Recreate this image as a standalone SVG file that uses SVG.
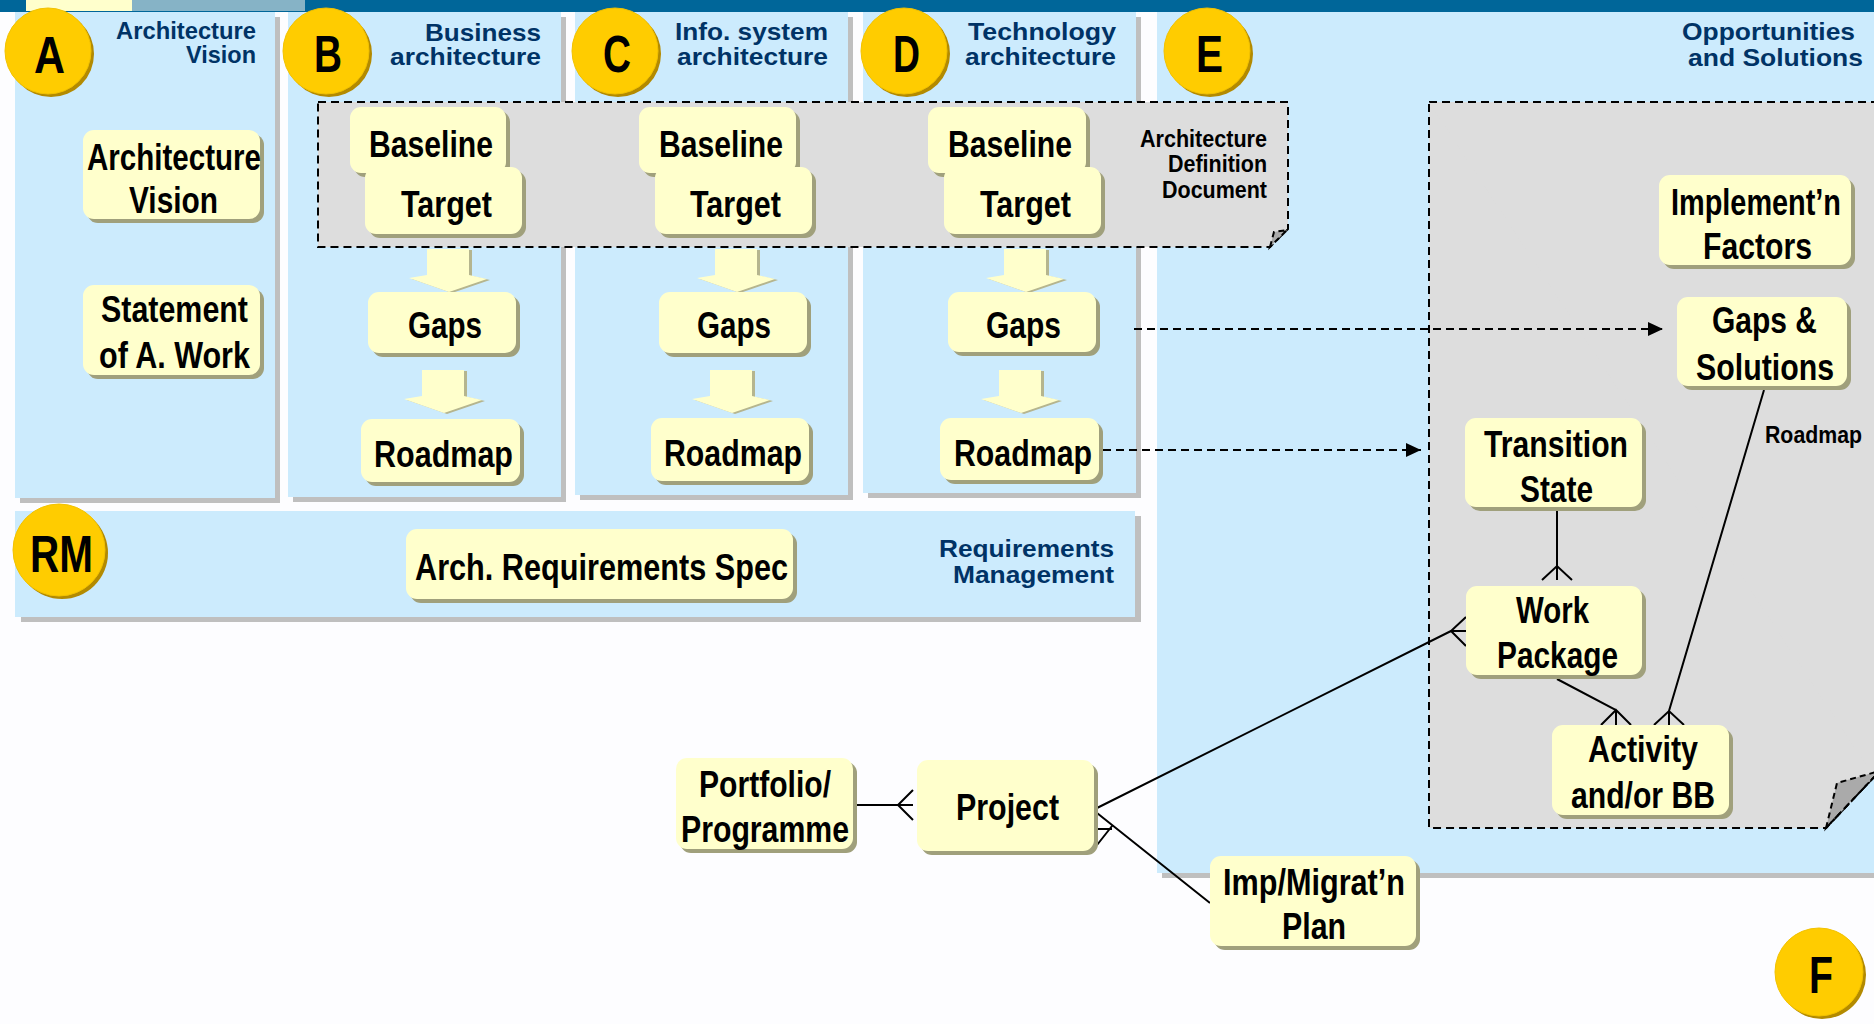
<svg xmlns="http://www.w3.org/2000/svg" xmlns:xlink="http://www.w3.org/1999/xlink" width="1874" height="1024" viewBox="0 0 1874 1024">
<style>
.panel{fill:#CCEBFD}
.psh{fill:#BFBFBF}
.box{fill:#FFFFCC}
.bsh{fill:#A0A07C}
.lbl{font-family:'Liberation Sans Narrow','Liberation Sans',Arial,sans-serif;font-weight:bold;font-size:37px;fill:#000;text-anchor:middle}
.ttl{font-family:'Liberation Sans',Arial,sans-serif;font-weight:bold;font-size:24px;fill:#003366;text-anchor:end}
.add{font-family:'Liberation Sans Narrow','Liberation Sans',Arial,sans-serif;font-weight:bold;font-size:23px;fill:#000;text-anchor:end}
.small{font-family:'Liberation Sans Narrow','Liberation Sans',Arial,sans-serif;font-weight:bold;font-size:24px;fill:#000}
.circ{fill:#FFCC00;stroke:#F2C200;stroke-width:1}
.csh{fill:#B38A00}
.ltr{font-family:'Liberation Sans Narrow','Liberation Sans',Arial,sans-serif;font-weight:bold;font-size:51px;fill:#000;text-anchor:middle}
.grp{fill:#DDDDDD;stroke:#000;stroke-width:2;stroke-dasharray:8 5}
.fold{fill:#AAAAAA;stroke:#000;stroke-width:2;stroke-dasharray:6 4}
.conn{fill:none;stroke:#000;stroke-width:2}
.dash{stroke-dasharray:8 5}
.ba{fill:#FFFFCC}
.bash{fill:#B5B58E}
</style>
<defs>
<path id="barrow" d="M-21,0 H21 V26 L39,30 L1,43 L-39,29 L-21,26 Z"/>
<marker id="ah" markerUnits="userSpaceOnUse" markerWidth="16" markerHeight="16" refX="15" refY="7" orient="auto">
<path d="M0,0 L15,7 L0,14 Z" fill="#000"/>
</marker>
</defs>
<rect x="0" y="0" width="1874" height="1024" fill="#FDFDFF"/>
<g id="topbar">
<rect x="0" y="0" width="1874" height="12" fill="#006699"/>
<rect x="26" y="0" width="106" height="11" fill="#FFFFCC"/>
<rect x="132" y="0" width="173" height="11" fill="#86B3C6"/>
</g>
<g id="panel-A">
<rect class="psh" x="20" y="17" width="260" height="486"/>
<rect class="panel" x="15" y="12" width="260" height="486"/>
<text class="ttl" x="256" y="39" textLength="140" lengthAdjust="spacingAndGlyphs">Architecture</text>
<text class="ttl" x="256" y="63" textLength="70" lengthAdjust="spacingAndGlyphs">Vision</text>
</g>
<g id="panel-B">
<rect class="psh" x="293" y="17" width="273" height="485"/>
<rect class="panel" x="288" y="12" width="273" height="485"/>
<text class="ttl" x="541" y="41" textLength="116" lengthAdjust="spacingAndGlyphs">Business</text>
<text class="ttl" x="541" y="65" textLength="151" lengthAdjust="spacingAndGlyphs">architecture</text>
</g>
<g id="panel-C">
<rect class="psh" x="580" y="17" width="273" height="483"/>
<rect class="panel" x="575" y="12" width="273" height="483"/>
<text class="ttl" x="828" y="40" textLength="153" lengthAdjust="spacingAndGlyphs">Info. system</text>
<text class="ttl" x="828" y="65" textLength="151" lengthAdjust="spacingAndGlyphs">architecture</text>
</g>
<g id="panel-D">
<rect class="psh" x="868" y="17" width="273" height="481"/>
<rect class="panel" x="863" y="12" width="273" height="481"/>
<text class="ttl" x="1116" y="40" textLength="148" lengthAdjust="spacingAndGlyphs">Technology</text>
<text class="ttl" x="1116" y="65" textLength="151" lengthAdjust="spacingAndGlyphs">architecture</text>
</g>
<g id="panel-E">
<rect class="psh" x="1162" y="17" width="720" height="861"/>
<rect class="panel" x="1157" y="12" width="720" height="861"/>
<text class="ttl" x="1855" y="40" textLength="173" lengthAdjust="spacingAndGlyphs">Opportunities</text>
<text class="ttl" x="1863" y="66" textLength="175" lengthAdjust="spacingAndGlyphs">and Solutions</text>
</g>
<g id="panel-RM">
<rect class="psh" x="21" y="516" width="1120" height="106"/>
<rect class="panel" x="15" y="511" width="1120" height="106"/>
<text class="ttl" x="1114" y="557" textLength="175" lengthAdjust="spacingAndGlyphs">Requirements</text>
<text class="ttl" x="1114" y="583" textLength="161" lengthAdjust="spacingAndGlyphs">Management</text>
</g>
<g id="add-document">
<path class="grp" d="M318,102 H1288 V229 L1270,247 H318 Z"/>
<path class="fold" d="M1270,247 L1274,232 L1287,230 Z"/>
<text class="add" x="1267" y="147" textLength="127" lengthAdjust="spacingAndGlyphs">Architecture</text>
<text class="add" x="1267" y="172" textLength="99" lengthAdjust="spacingAndGlyphs">Definition</text>
<text class="add" x="1267" y="198" textLength="105" lengthAdjust="spacingAndGlyphs">Document</text>
</g>
<g id="os-area">
<path d="M1429,102 H1874 V777 L1826,828 H1429 Z" fill="#DDDDDD"/>
<path class="grp" d="M1429,102 H1880" fill="none"/>
<path class="grp" d="M1874,777 L1826,828 H1429 V102" fill="none"/>
<path class="fold" d="M1826,828 L1837,783 L1876,772 L1876,775 Z"/>
<path class="conn dash" d="M1826,828 L1876,775"/>
</g>
<g id="circles">
<g id="circle-A"><circle class="csh" cx="51" cy="54" r="43"/><circle class="circ" cx="48" cy="51" r="43"/><text class="ltr" x="49.5" y="73" textLength="31" lengthAdjust="spacingAndGlyphs">A</text></g>
<g id="circle-B"><circle class="csh" cx="329" cy="54" r="43"/><circle class="circ" cx="326" cy="51" r="43"/><text class="ltr" x="328" y="72" textLength="28" lengthAdjust="spacingAndGlyphs">B</text></g>
<g id="circle-C"><circle class="csh" cx="618" cy="54" r="43"/><circle class="circ" cx="615" cy="51" r="43"/><text class="ltr" x="617" y="72" textLength="28" lengthAdjust="spacingAndGlyphs">C</text></g>
<g id="circle-D"><circle class="csh" cx="907" cy="54" r="43"/><circle class="circ" cx="904" cy="51" r="43"/><text class="ltr" x="906.5" y="72" textLength="27" lengthAdjust="spacingAndGlyphs">D</text></g>
<g id="circle-E"><circle class="csh" cx="1210" cy="54" r="43"/><circle class="circ" cx="1207" cy="51" r="43"/><text class="ltr" x="1209.5" y="72" textLength="27" lengthAdjust="spacingAndGlyphs">E</text></g>
<g id="circle-RM"><circle class="csh" cx="62" cy="553" r="46"/><circle class="circ" cx="59" cy="550" r="46"/><text class="ltr" x="61.5" y="572" textLength="63" lengthAdjust="spacingAndGlyphs">RM</text></g>
<g id="circle-F"><circle class="csh" cx="1822" cy="975" r="44"/><circle class="circ" cx="1819" cy="972" r="44"/><text class="ltr" x="1821" y="993" textLength="24" lengthAdjust="spacingAndGlyphs">F</text></g>
</g>
<g id="block-arrows">
<use href="#barrow" class="bash" x="451" y="250"/><use href="#barrow" class="ba" x="448" y="249"/>
<use href="#barrow" class="bash" x="739" y="250"/><use href="#barrow" class="ba" x="736" y="249"/>
<use href="#barrow" class="bash" x="1028" y="250"/><use href="#barrow" class="ba" x="1025" y="249"/>
<use href="#barrow" class="bash" x="446" y="371"/><use href="#barrow" class="ba" x="443" y="370"/>
<use href="#barrow" class="bash" x="734" y="371"/><use href="#barrow" class="ba" x="731" y="370"/>
<use href="#barrow" class="bash" x="1023" y="371"/><use href="#barrow" class="ba" x="1020" y="370"/>
</g>
<g id="connectors">
<path class="conn dash" d="M1134,329 H1663" marker-end="url(#ah)"/>
<path class="conn dash" d="M1103,450 H1421" marker-end="url(#ah)"/>
<path class="conn" d="M1557,511 V580 M1542,580 L1557,566 L1572,580"/>
<path class="conn" d="M1097,808 L1451,631 M1466,617 L1451,631 L1466,646 M1451,631 H1466"/>
<path class="conn" d="M1557,679 L1616,710 V725 M1601,725 L1616,710 L1631,725"/>
<path class="conn" d="M1764,390 L1669,711 V725 M1654,725 L1669,711 L1684,725"/>
<path class="conn" d="M857,805 H913 M913,790 L898,805 L913,820"/>
<path class="conn" d="M1097,813 L1210,903 M1097,829 H1112 M1097,845 L1112,826"/>
<text class="small" x="1765" y="443" textLength="97" lengthAdjust="spacingAndGlyphs">Roadmap</text>
</g>
<g id="node-arch-vision"><rect class="bsh" x="87" y="134" width="177" height="89" rx="11"/><rect class="box" x="83" y="130" width="177" height="89" rx="11"/>
<text class="lbl" x="174" y="170" textLength="174" lengthAdjust="spacingAndGlyphs">Architecture</text>
<text class="lbl" x="173.5" y="213" textLength="89" lengthAdjust="spacingAndGlyphs">Vision</text></g>
<g id="node-statement"><rect class="bsh" x="87" y="289" width="177" height="90" rx="11"/><rect class="box" x="83" y="285" width="177" height="90" rx="11"/>
<text class="lbl" x="174.5" y="322" textLength="147" lengthAdjust="spacingAndGlyphs">Statement</text>
<text class="lbl" x="174.5" y="368" textLength="151" lengthAdjust="spacingAndGlyphs">of A. Work</text></g>
<g id="node-baseline-B"><rect class="bsh" x="354" y="111" width="156" height="66" rx="11"/><rect class="box" x="350" y="107" width="156" height="66" rx="11"/>
<text class="lbl" x="431" y="157" textLength="124" lengthAdjust="spacingAndGlyphs">Baseline</text></g>
<g id="node-target-B"><rect class="bsh" x="369" y="171" width="157" height="67" rx="11"/><rect class="box" x="365" y="167" width="157" height="67" rx="11"/>
<text class="lbl" x="446.5" y="217" textLength="91" lengthAdjust="spacingAndGlyphs">Target</text></g>
<g id="node-gaps-B"><rect class="bsh" x="372" y="296" width="148" height="61" rx="11"/><rect class="box" x="368" y="292" width="148" height="61" rx="11"/>
<text class="lbl" x="445" y="338" textLength="74" lengthAdjust="spacingAndGlyphs">Gaps</text></g>
<g id="node-roadmap-B"><rect class="bsh" x="365" y="423" width="159" height="63" rx="11"/><rect class="box" x="361" y="419" width="159" height="63" rx="11"/>
<text class="lbl" x="443.5" y="467" textLength="139" lengthAdjust="spacingAndGlyphs">Roadmap</text></g>
<g id="node-baseline-C"><rect class="bsh" x="643" y="111" width="157" height="66" rx="11"/><rect class="box" x="639" y="107" width="157" height="66" rx="11"/>
<text class="lbl" x="721" y="157" textLength="124" lengthAdjust="spacingAndGlyphs">Baseline</text></g>
<g id="node-target-C"><rect class="bsh" x="659" y="171" width="157" height="67" rx="11"/><rect class="box" x="655" y="167" width="157" height="67" rx="11"/>
<text class="lbl" x="735.5" y="217" textLength="91" lengthAdjust="spacingAndGlyphs">Target</text></g>
<g id="node-gaps-C"><rect class="bsh" x="663" y="296" width="148" height="61" rx="11"/><rect class="box" x="659" y="292" width="148" height="61" rx="11"/>
<text class="lbl" x="734" y="338" textLength="74" lengthAdjust="spacingAndGlyphs">Gaps</text></g>
<g id="node-roadmap-C"><rect class="bsh" x="655" y="422" width="158" height="63" rx="11"/><rect class="box" x="651" y="418" width="158" height="63" rx="11"/>
<text class="lbl" x="733" y="466" textLength="138" lengthAdjust="spacingAndGlyphs">Roadmap</text></g>
<g id="node-baseline-D"><rect class="bsh" x="932" y="111" width="158" height="66" rx="11"/><rect class="box" x="928" y="107" width="158" height="66" rx="11"/>
<text class="lbl" x="1010" y="157" textLength="124" lengthAdjust="spacingAndGlyphs">Baseline</text></g>
<g id="node-target-D"><rect class="bsh" x="948" y="171" width="157" height="67" rx="11"/><rect class="box" x="944" y="167" width="157" height="67" rx="11"/>
<text class="lbl" x="1025.5" y="217" textLength="91" lengthAdjust="spacingAndGlyphs">Target</text></g>
<g id="node-gaps-D"><rect class="bsh" x="952" y="296" width="148" height="60" rx="11"/><rect class="box" x="948" y="292" width="148" height="60" rx="11"/>
<text class="lbl" x="1023.5" y="338" textLength="75" lengthAdjust="spacingAndGlyphs">Gaps</text></g>
<g id="node-roadmap-D"><rect class="bsh" x="944" y="422" width="159" height="62" rx="11"/><rect class="box" x="940" y="418" width="159" height="62" rx="11"/>
<text class="lbl" x="1023" y="466" textLength="138" lengthAdjust="spacingAndGlyphs">Roadmap</text></g>
<g id="node-ars"><rect class="bsh" x="410" y="533" width="387" height="70" rx="11"/><rect class="box" x="406" y="529" width="387" height="70" rx="11"/>
<text class="lbl" x="601.5" y="580" textLength="373" lengthAdjust="spacingAndGlyphs">Arch. Requirements Spec</text></g>
<g id="node-impl-factors"><rect class="bsh" x="1663" y="179" width="192" height="90" rx="11"/><rect class="box" x="1659" y="175" width="192" height="90" rx="11"/>
<text class="lbl" x="1756" y="215" textLength="170" lengthAdjust="spacingAndGlyphs">Implement’n</text>
<text class="lbl" x="1757.5" y="259" textLength="109" lengthAdjust="spacingAndGlyphs">Factors</text></g>
<g id="node-gaps-solutions"><rect class="bsh" x="1681" y="301" width="170" height="89" rx="11"/><rect class="box" x="1677" y="297" width="170" height="89" rx="11"/>
<text class="lbl" x="1764.5" y="333" textLength="105" lengthAdjust="spacingAndGlyphs">Gaps &amp;</text>
<text class="lbl" x="1765" y="380" textLength="138" lengthAdjust="spacingAndGlyphs">Solutions</text></g>
<g id="node-transition"><rect class="bsh" x="1469" y="422" width="177" height="89" rx="11"/><rect class="box" x="1465" y="418" width="177" height="89" rx="11"/>
<text class="lbl" x="1556" y="457" textLength="144" lengthAdjust="spacingAndGlyphs">Transition</text>
<text class="lbl" x="1556.5" y="502" textLength="73" lengthAdjust="spacingAndGlyphs">State</text></g>
<g id="node-work-package"><rect class="bsh" x="1470" y="590" width="176" height="89" rx="11"/><rect class="box" x="1466" y="586" width="176" height="89" rx="11"/>
<text class="lbl" x="1552.5" y="623" textLength="73" lengthAdjust="spacingAndGlyphs">Work</text>
<text class="lbl" x="1557.5" y="668" textLength="121" lengthAdjust="spacingAndGlyphs">Package</text></g>
<g id="node-activity"><rect class="bsh" x="1556" y="729" width="177" height="90" rx="11"/><rect class="box" x="1552" y="725" width="177" height="90" rx="11"/>
<text class="lbl" x="1643" y="762" textLength="110" lengthAdjust="spacingAndGlyphs">Activity</text>
<text class="lbl" x="1643" y="808" textLength="144" lengthAdjust="spacingAndGlyphs">and/or BB</text></g>
<g id="node-portfolio"><rect class="bsh" x="680" y="762" width="177" height="91" rx="11"/><rect class="box" x="676" y="758" width="177" height="91" rx="11"/>
<text class="lbl" x="765" y="797" textLength="132" lengthAdjust="spacingAndGlyphs">Portfolio/</text>
<text class="lbl" x="765" y="842" textLength="168" lengthAdjust="spacingAndGlyphs">Programme</text></g>
<g id="node-project"><rect class="bsh" x="921" y="764" width="177" height="91" rx="11"/><rect class="box" x="917" y="760" width="177" height="91" rx="11"/>
<text class="lbl" x="1007.5" y="820" textLength="103" lengthAdjust="spacingAndGlyphs">Project</text></g>
<g id="node-imp-plan"><rect class="bsh" x="1214" y="860" width="206" height="90" rx="11"/><rect class="box" x="1210" y="856" width="206" height="90" rx="11"/>
<text class="lbl" x="1314" y="895" textLength="182" lengthAdjust="spacingAndGlyphs">Imp/Migrat’n</text>
<text class="lbl" x="1314" y="939" textLength="64" lengthAdjust="spacingAndGlyphs">Plan</text></g>
</svg>
